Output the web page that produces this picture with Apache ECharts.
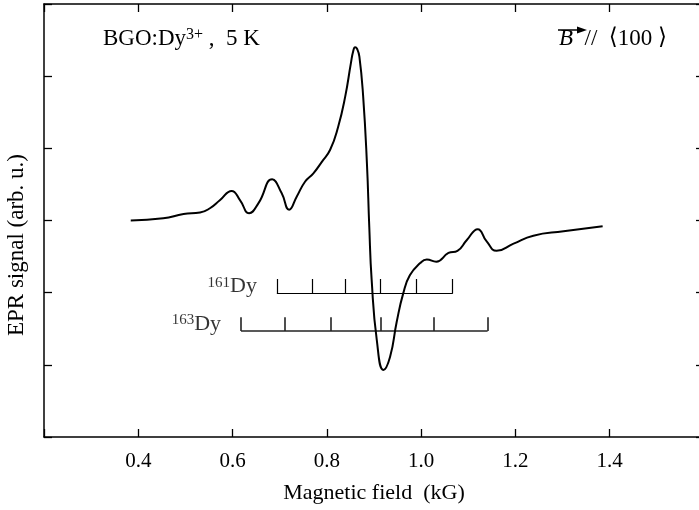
<!DOCTYPE html>
<html><head><meta charset="utf-8">
<script src="https://cdn.jsdelivr.net/npm/echarts@6/dist/echarts.min.js"></script>
<style>html,body{margin:0;padding:0;background:#fff}#c{width:699px;height:510px}</style>
</head><body><div id="c"></div>
<script>
// ---- data ----
const fieldKG = [0.384,0.453,0.496,0.531,0.552,0.573,0.598,0.616,0.635,0.655,0.684,0.704,0.720,0.736,0.754,0.771,0.789,0.807,0.824,0.839,0.851,0.856,0.860,0.864,0.869,0.877,0.885,0.890,0.895,0.906,0.920,0.934,0.948,0.962,0.976,0.998,1.012,1.032,1.058,1.077,1.097,1.120,1.139,1.160,1.196,1.238,1.302,1.385];
const signal  = [0.00,0.03,0.09,0.11,0.17,0.28,0.41,0.28,0.10,0.24,0.57,0.38,0.15,0.33,0.54,0.65,0.81,0.98,1.30,1.72,2.18,2.35,2.40,2.38,2.27,1.72,0.79,-0.09,-0.82,-1.66,-2.07,-1.89,-1.41,-1.01,-0.76,-0.59,-0.54,-0.57,-0.45,-0.42,-0.27,-0.12,-0.29,-0.42,-0.32,-0.21,-0.15,-0.08];
const dy161Lines = [0.694,0.769,0.839,0.913,0.989,1.067];
const dy163Lines = [0.618,0.711,0.809,0.914,1.026,1.141];
const xTickLabels = ['0.4','0.6','0.8','1.0','1.2','1.4'];
const xTitle = 'Magnetic field  (kG)';
const yTitle = 'EPR signal (arb. u.)';
const sampleLabel = ['BGO:Dy', '3+', ' ,  5 K'];
const fieldLabel = ['B', '  //  ', '\u27E8', '100 ', '\u27E9'];
const isoLabels = [['161','Dy'],['163','Dy']];

// ---- chart ----
const FONT = "'Liberation Serif', 'Times New Roman', 'DejaVu Serif', serif";
const chart = echarts.init(document.getElementById('c'), null, {renderer:'canvas'});

function sticks(pos, yBase, yTop){
  const segs = [{coords:[[pos[0],yBase],[pos[pos.length-1],yBase]]}];
  pos.forEach(p => segs.push({coords:[[p,yBase],[p,yTop]]}));
  return segs;
}
const s161 = {base:-1.01, top:-0.81};
const s163 = {base:-1.53, top:-1.34};

function axisCommon(){
  return {
    axisLine:{show:true, onZero:false, lineStyle:{color:'#000', width:1.5}},
    axisTick:{show:true, inside:true, length:8, lineStyle:{color:'#000', width:1.3}},
    splitLine:{show:false}
  };
}
const richIso = {
  s:{fontFamily:FONT, fontSize:15, color:'#000', verticalAlign:'top', lineHeight:22},
  t:{fontFamily:FONT, fontSize:22, color:'#000', lineHeight:22}
};
const richSample = {
  s:{fontFamily:FONT, fontSize:16, color:'#000', verticalAlign:'top', lineHeight:23},
  t:{fontFamily:FONT, fontSize:23, color:'#000', lineHeight:23}
};

chart.setOption({
  animation:false,
  backgroundColor:'#fff',
  grid:{left:44, top:4, width:660, height:433, containLabel:false, outerBoundsMode:'none'},
  xAxis:[
    Object.assign(axisCommon(), {type:'value', position:'bottom', min:0.2, max:1.6, interval:0.2,
      axisLabel:{show:true, margin:14, fontFamily:FONT, fontSize:21, color:'#000',
        formatter:v => { const s = v.toFixed(1); return xTickLabels.includes(s) ? s : ''; }},
      name:xTitle, nameLocation:'middle', nameGap:45,
      nameTextStyle:{fontFamily:FONT, fontSize:22, color:'#000'}}),
    Object.assign(axisCommon(), {type:'value', position:'top', min:0.2, max:1.6, interval:0.2,
      axisLabel:{show:false}})
  ],
  yAxis:[
    Object.assign(axisCommon(), {type:'value', position:'left', min:-3, max:3, interval:1,
      axisLabel:{show:false}}),
    Object.assign(axisCommon(), {type:'value', position:'right', min:-3, max:3, interval:1,
      axisLabel:{show:false}})
  ],
  series:[
    {type:'line', xAxisIndex:0, yAxisIndex:0, data:fieldKG.map((x,i)=>[x,signal[i]]),
      showSymbol:false, symbol:'none', smooth:0.5,
      lineStyle:{color:'#000', width:2}, z:4, silent:true},
    {type:'lines', coordinateSystem:'cartesian2d', xAxisIndex:0, yAxisIndex:0, polyline:false,
      data:sticks(dy161Lines, s161.base, s161.top), lineStyle:{color:'#000', width:1.2, opacity:1}, z:3, silent:true},
    {type:'lines', coordinateSystem:'cartesian2d', xAxisIndex:0, yAxisIndex:0, polyline:false,
      data:sticks(dy163Lines, s163.base, s163.top), lineStyle:{color:'#222', width:1.6, opacity:1}, z:3, silent:true},
    {type:'scatter', xAxisIndex:0, yAxisIndex:0, symbolSize:0, silent:true,
      data:[[dy161Lines[0], (s161.base+s161.top)/2], [dy163Lines[0], (s163.base+s163.top)/2]],
      label:{show:true, position:'left', distance:20,
        formatter:p => '{s|'+isoLabels[p.dataIndex][0]+'}{t|'+isoLabels[p.dataIndex][1]+'}',
        rich:richIso}}
  ],
  graphic:[
    {type:'text', x:17, y:245, rotation:Math.PI/2, silent:true, style:{
      text:yTitle, fontFamily:FONT, fontSize:23, fill:'#000', align:'center', verticalAlign:'middle'}},
    {type:'text', left:103, top:27, silent:true, style:{
      text:'{t|'+sampleLabel[0]+'}{s|'+sampleLabel[1]+'}{t|'+sampleLabel[2]+'}',
      rich:richSample}},
    {type:'text', left:559, top:27, silent:true, style:{
      text:'{b|'+fieldLabel[0]+'}{t|'+fieldLabel[1]+'}{br|'+fieldLabel[2]+'}{t|'+fieldLabel[3]+'}{br|'+fieldLabel[4]+'}',
      rich:{b:{fontFamily:FONT, fontSize:23, fontStyle:'italic', color:'#000', lineHeight:29},
            t:{fontFamily:FONT, fontSize:23, color:'#000', lineHeight:29},
            br:{fontFamily:"'DejaVu Serif', serif", fontSize:23, color:'#000', lineHeight:29}}}},
    {type:'line', silent:true, shape:{x1:558, y1:30, x2:580, y2:30}, style:{stroke:'#000', lineWidth:1.5}},
    {type:'polygon', silent:true, shape:{points:[[577,26.5],[587,30],[577,33.5]]}, style:{fill:'#000'}}
  ]
});
</script></body></html>
